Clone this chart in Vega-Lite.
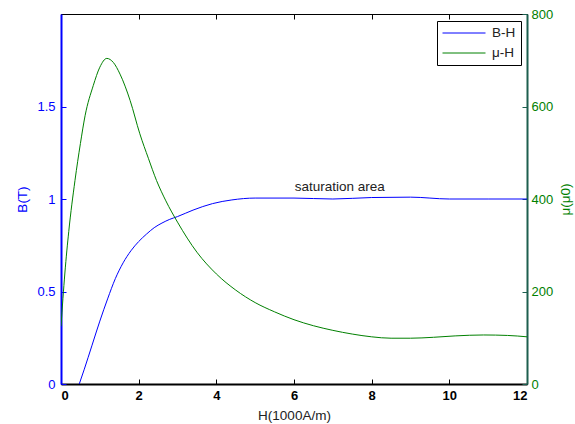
{
  "$schema": "https://vega.github.io/schema/vega-lite/v6.json",
  "width": 466,
  "height": 370,
  "autosize": {"type": "none"},
  "padding": {"left": 61, "top": 14, "right": 48, "bottom": 40},
  "config": {
    "font": "Liberation Sans",
    "view": {"stroke": "black", "strokeWidth": 1},
    "axis": {"grid": false, "labelFontSize": 13, "titleFontSize": 13.5, "titleFontWeight": "normal", "tickSize": -5, "labelFont": "Liberation Sans", "titleFont": "Liberation Sans"}
  },
  "datasets": {
    "bh": [
      {"H": 0.47, "B": 0}, {"H": 0.6, "B": 0.08}, {"H": 0.8, "B": 0.21}, {"H": 1.0, "B": 0.34},
      {"H": 1.2, "B": 0.46}, {"H": 1.4, "B": 0.57}, {"H": 1.6, "B": 0.655}, {"H": 1.8, "B": 0.72},
      {"H": 2.0, "B": 0.77}, {"H": 2.2, "B": 0.81}, {"H": 2.4, "B": 0.845}, {"H": 2.6, "B": 0.87},
      {"H": 2.8, "B": 0.89}, {"H": 3.0, "B": 0.905}, {"H": 3.4, "B": 0.94}, {"H": 3.9, "B": 0.975},
      {"H": 4.4, "B": 0.995}, {"H": 5.0, "B": 1.005}, {"H": 6.0, "B": 1.005}, {"H": 7.0, "B": 1.0},
      {"H": 8.0, "B": 1.008}, {"H": 9.0, "B": 1.01}, {"H": 10.0, "B": 1.0}, {"H": 11.0, "B": 1.0},
      {"H": 12.0, "B": 1.0}
    ],
    "mu": [
      {"H": 0, "mu": 125}, {"H": 0.05, "mu": 185}, {"H": 0.1, "mu": 240}, {"H": 0.2, "mu": 330}, {"H": 0.36, "mu": 440},
      {"H": 0.5, "mu": 520}, {"H": 0.62, "mu": 580}, {"H": 0.83, "mu": 645}, {"H": 1.0, "mu": 685},
      {"H": 1.18, "mu": 704}, {"H": 1.35, "mu": 695}, {"H": 1.52, "mu": 670}, {"H": 1.78, "mu": 613},
      {"H": 2.03, "mu": 541}, {"H": 2.25, "mu": 488}, {"H": 2.46, "mu": 440}, {"H": 2.7, "mu": 396},
      {"H": 3.0, "mu": 350}, {"H": 3.5, "mu": 285}, {"H": 4.0, "mu": 238}, {"H": 4.5, "mu": 203},
      {"H": 5.0, "mu": 176}, {"H": 5.5, "mu": 156}, {"H": 6.0, "mu": 139}, {"H": 6.5, "mu": 126},
      {"H": 7.0, "mu": 116}, {"H": 7.5, "mu": 108}, {"H": 8.0, "mu": 102}, {"H": 8.5, "mu": 99},
      {"H": 9.0, "mu": 99}, {"H": 9.59, "mu": 101}, {"H": 10.15, "mu": 104}, {"H": 10.88, "mu": 106},
      {"H": 11.5, "mu": 105}, {"H": 12.0, "mu": 102}
    ],
    "notes": [{"H": 7.18, "B": 1.065, "label": "saturation area"}]
  },
  "layer": [
    {
      "data": {"name": "bh"},
      "mark": {"type": "line", "strokeWidth": 1, "clip": true, "interpolate": "monotone"},
      "encoding": {
        "x": {"field": "H", "type": "quantitative", "scale": {"domain": [0, 12], "nice": false},
          "axis": {"orient": "bottom", "values": [0, 2, 4, 6, 8, 10, 12], "format": "d", "title": "H(1000A/m)", "labelFontWeight": "bold", "labelColor": "black", "domainColor": "black", "domainWidth": 2, "tickColor": "black", "labelPadding": 10, "titlePadding": 6, "titleColor": "#222222"}},
        "y": {"field": "B", "type": "quantitative", "scale": {"domain": [0, 2], "nice": false},
          "axis": {"orient": "left", "values": [0, 0.5, 1, 1.5], "format": "~g", "title": "B(T)", "labelColor": "#0000ff", "titleColor": "#0000ff", "domainColor": "#0000ff", "domainWidth": 2, "tickColor": "#0000ff", "labelPadding": 11, "titlePadding": 7}},
        "color": {"datum": "B-H", "scale": {"domain": ["B-H", "μ-H"], "range": ["#0000ff", "#008000"]},
          "legend": {"title": null, "orient": "none", "legendX": 376, "legendY": 7, "symbolType": "stroke", "symbolSize": 1849, "symbolStrokeWidth": 1, "labelFontSize": 13.5, "labelColor": "#222222", "strokeColor": "black", "fillColor": "white", "padding": 5, "cornerRadius": 0, "labelOffset": 6, "rowPadding": 6, "clipHeight": 14}}
      }
    },
    {
      "data": {"name": "mu"},
      "mark": {"type": "line", "strokeWidth": 1, "clip": true, "interpolate": "monotone"},
      "encoding": {
        "x": {"field": "H", "type": "quantitative", "scale": {"domain": [0, 12], "nice": false},
          "axis": {"orient": "top", "values": [0, 2, 4, 6, 8, 10, 12], "labels": false, "title": null, "domain": false, "tickColor": "black"}},
        "y": {"field": "mu", "type": "quantitative", "scale": {"domain": [0, 800], "nice": false},
          "axis": {"orient": "right", "values": [0, 200, 400, 600, 800], "format": "d", "title": "μ(μ0)", "titleAngle": 270, "labelColor": "#008000", "titleColor": "#008000", "domainColor": "#1d5f4f", "domainWidth": 2, "tickColor": "#1d5f4f", "labelPadding": 9, "titlePadding": 20}},
        "color": {"datum": "μ-H"}
      }
    },
    {
      "data": {"name": "notes"},
      "mark": {"type": "text", "fontSize": 13.5, "color": "#222222", "align": "center", "baseline": "middle"},
      "encoding": {
        "x": {"field": "H", "type": "quantitative", "scale": {"domain": [0, 12], "nice": false}, "axis": null},
        "y": {"field": "B", "type": "quantitative", "scale": {"domain": [0, 2], "nice": false}, "axis": null},
        "text": {"field": "label"}
      }
    }
  ],
  "resolve": {"scale": {"x": "independent", "y": "independent"}}
}
